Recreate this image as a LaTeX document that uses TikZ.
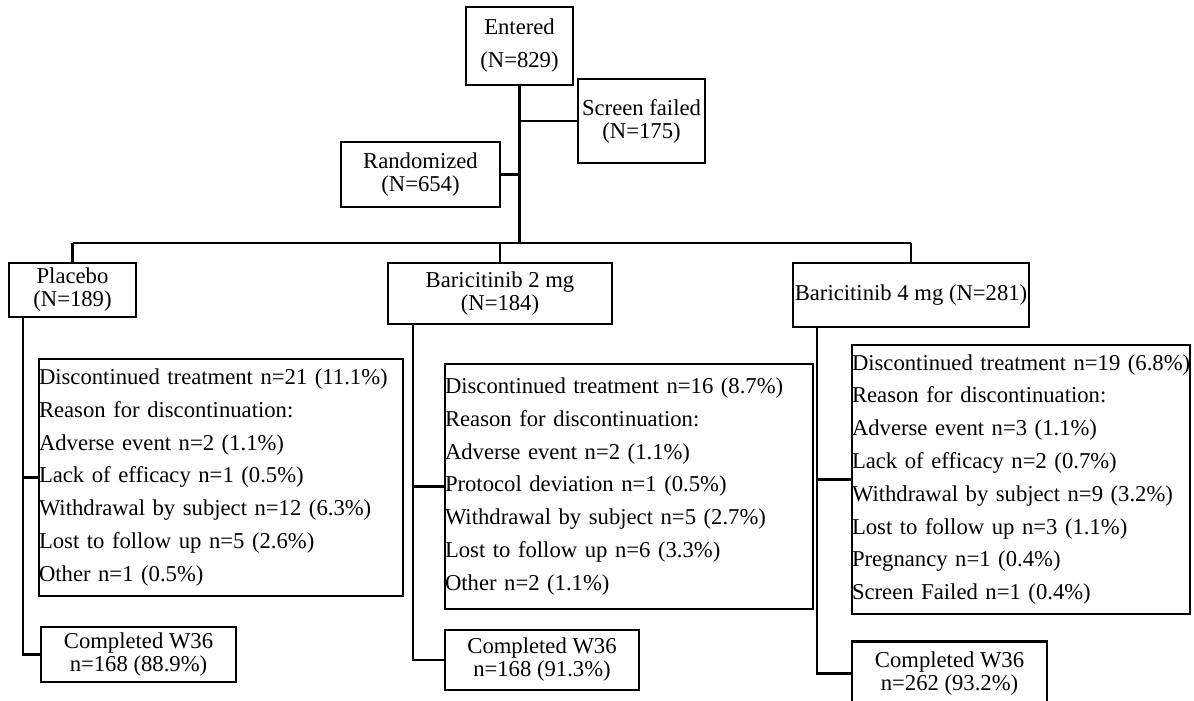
\documentclass[tikz,border=0pt]{standalone}
\usepackage{fontspec}
\setmainfont{Liberation Serif}
\newcommand\ftwo{\fontsize{17}{17.25}\selectfont}
\newcommand\fent{\fontsize{17}{24.75}\selectfont}
\newcommand\fdisc{\fontsize{17}{24.6}\selectfont}
\newcommand\myl[1]{\mbox{#1}}
\begin{document}
\begin{tikzpicture}[x=0.75pt,y=-0.75pt,
  box/.style={draw, line width=2pt, inner sep=0pt, align=center, font=\ftwo},
  disc/.style={draw, line width=2pt, inner xsep=0pt, inner ysep=0pt, align=left, font=\fdisc},
  conn/.style={line width=1.7pt},
  trunk/.style={line width=2.8pt},
  barline/.style={line width=2.2pt}]
\useasboundingbox (0,0) rectangle (1194,700);

% top
\node[box, font=\fent, minimum width=80.25pt, minimum height=58.5pt] (entered) at (519.5,46) {Entered\\(N=829)};
\node[box, minimum width=95.25pt, minimum height=63pt] (screen) at (641.5,121) {Screen failed\\(N=175)};
\node[box, minimum width=119.25pt, minimum height=48.75pt] (random) at (420.5,174.5) {Randomized\\(N=654)};

% arms
\node[box, minimum width=95.25pt, minimum height=40.5pt] (placebo) at (72.5,290) {Placebo\\(N=189)};
\node[box, minimum width=168pt, minimum height=45.75pt] (bari2) at (500,293.5) {Baricitinib 2 mg\\(N=184)};
\node[box, minimum width=177pt, minimum height=48pt] (bari4) at (911,295) {Baricitinib 4 mg (N=281)};

% discontinuation boxes
\node[disc, text width=273pt, minimum height=177.75pt] (discP) at (221,477.5) {%
\myl{Discontinued treatment n=21 (11.1\%)}\\
\myl{Reason for discontinuation:}\\
\myl{Adverse event n=2 (1.1\%)}\\
\myl{Lack of efficacy n=1 (0.5\%)}\\
\myl{Withdrawal by subject n=12 (6.3\%)}\\
\myl{Lost to follow up n=5 (2.6\%)}\\
\myl{Other n=1 (0.5\%)}};
\node[disc, text width=276pt, minimum height=183.75pt] (discB2) at (629,486.5) {%
\myl{Discontinued treatment n=16 (8.7\%)}\\
\myl{Reason for discontinuation:}\\
\myl{Adverse event n=2 (1.1\%)}\\
\myl{Protocol deviation n=1 (0.5\%)}\\
\myl{Withdrawal by subject n=5 (2.7\%)}\\
\myl{Lost to follow up n=6 (3.3\%)}\\
\myl{Other n=2 (1.1\%)}};
\node[disc, text width=253.5pt, minimum height=201.75pt] (discB4) at (1021,479.5) {%
\myl{Discontinued treatment n=19 (6.8\%)}\\
\myl{Reason for discontinuation:}\\
\myl{Adverse event n=3 (1.1\%)}\\
\myl{Lack of efficacy n=2 (0.7\%)}\\
\myl{Withdrawal by subject n=9 (3.2\%)}\\
\myl{Lost to follow up n=3 (1.1\%)}\\
\myl{Pregnancy n=1 (0.4\%)}\\
\myl{Screen Failed n=1 (0.4\%)}};

% completed boxes
\node[box, minimum width=146.25pt, minimum height=41.25pt] (compP) at (138.5,654.5) {Completed W36\\n=168 (88.9\%)};
\node[box, minimum width=145.5pt, minimum height=45pt] (compB2) at (542,660) {Completed W36\\n=168 (91.3\%)};
\node[box, minimum width=146.25pt, minimum height=48pt] (compB4) at (949.5,673.5) {Completed W36\\n=262 (93.2\%)};

% helper coordinates
\coordinate (barY) at (0,243);
\coordinate (xP) at (23,0);
\coordinate (xB2) at (413,0);
\coordinate (xB4) at (817,0);

% connectors
\draw[trunk] (entered.south) -- (entered.south |- barY);
\draw[conn] (entered.south |- screen.west) -- (screen.west);
\draw[conn] (entered.south |- random.east) -- (random.east);
\draw[barline] (placebo.north |- barY) -- (bari4.north |- barY);
\draw[conn] (placebo.north |- barY) -- (placebo.north);
\draw[conn] (bari2.north |- barY) -- (bari2.north);
\draw[conn] (bari4.north |- barY) -- (bari4.north);

\draw[conn] (placebo.south -| xP) |- (discP.west);
\draw[conn] (placebo.south -| xP) |- (compP.west);
\draw[conn] (bari2.south -| xB2) |- (discB2.west);
\draw[conn] (bari2.south -| xB2) |- (compB2.west);
\draw[conn] (bari4.south -| xB4) |- (discB4.west);
\draw[conn] (bari4.south -| xB4) |- (compB4.west);
\end{tikzpicture}
\end{document}
